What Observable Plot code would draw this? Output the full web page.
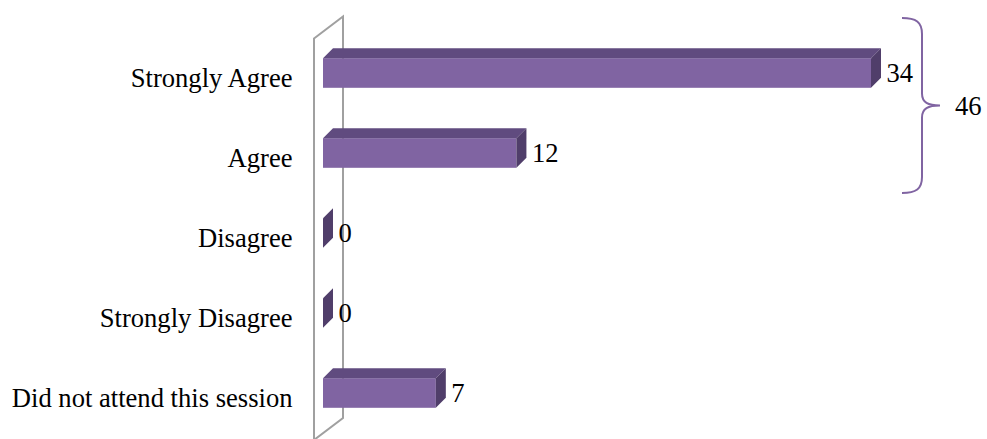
<!DOCTYPE html>
<html><head><meta charset="utf-8">
<script src="https://cdn.jsdelivr.net/npm/d3@7"></script>
<script src="https://cdn.jsdelivr.net/npm/@observablehq/plot@0.6"></script>
<style>body{margin:0;background:#fff}</style>
</head><body><div id="chart"></div>
<script>
const categories = ["Strongly Agree", "Agree", "Disagree", "Strongly Disagree", "Did not attend this session"];
const counts = [34, 12, 0, 0, 7];
const bracketGroup = ["Strongly Agree", "Agree"];

const data = categories.map((c, i) => ({category: c, count: counts[i]}));
const bracketTotal = d3.sum(data.filter(d => bracketGroup.includes(d.category)), d => d.count);

const FRONT = "#8064A2", TOP = "#604B7F", SIDE = "#503E6A", WALL = "#A0A0A0";
const FONT = "Liberation Serif";
const FS = 26.6;
const depth = 10;

const chart = Plot.plot({
  width: 987, height: 439,
  marginLeft: 323, marginRight: 116, marginTop: 30.5, marginBottom: 4,
  style: {fontFamily: FONT, fontSize: FS + "px", background: "#fff", color: "#000", overflow: "visible"},
  x: {domain: [0, 34], axis: null},
  y: {domain: categories, padding: 0, axis: null},
  marks: [
    Plot.barX(data, {x: "count", y: "category", fill: FRONT, insetTop: 25.2, insetBottom: 25.2}),
    Plot.text(data, {x: "count", y: "category", text: d => String(d.count), dx: 15, textAnchor: "start", fontSize: FS, fontFamily: FONT, fill: "#000"}),
    Plot.axisY({tickSize: 0, tickPadding: 31, dy: 5, label: null, fontSize: FS, fontFamily: FONT})
  ]
});

const svg = d3.select(chart);
const xs = chart.scale("x"), ys = chart.scale("y");
const X = v => xs.apply(v), Y = c => ys.apply(c);
const bw = ys.bandwidth;
const inset = 25.2;
const x0 = X(0);

// back wall (behind bars)
const yTop0 = Y(categories[0]);
const yEnd = Y(categories[categories.length - 1]) + bw;
const wallL = x0 - 9, wallR = x0 + 20, wallRise = 22;
const wall = svg.insert("g", "g");
wall.append("path")
  .attr("d", `M${wallL},${yTop0 + 5.5} L${wallR},${yTop0 + 5.5 - wallRise} L${wallR},${yEnd - 15} L${wallL},${yEnd - 15 + wallRise} Z`)
  .attr("fill", "none").attr("stroke", WALL).attr("stroke-width", 2);

// 3D faces for each bar
const faces = svg.append("g");
for (const d of data) {
  const xa = x0, xb = X(d.count);
  const yt = Y(d.category) + inset, yb = Y(d.category) + bw - inset;
  if (xb > xa) {
    faces.append("path")
      .attr("d", `M${xa},${yt} L${xa + depth},${yt - depth} L${xb + depth},${yt - depth} L${xb},${yt} Z`)
      .attr("fill", TOP);
  }
  faces.append("path")
    .attr("d", `M${xb},${yt} L${xb + depth},${yt - depth} L${xb + depth},${yb - depth} L${xb},${yb} Z`)
    .attr("fill", SIDE);
}
svg.selectAll("g[aria-label='text']").raise();

// brace for grouped categories
const bTop = Y(bracketGroup[0]) - 15;
const bBot = Y(bracketGroup[bracketGroup.length - 1]) + bw;
const bMid = (bTop + bBot) / 2;
const bx = X(d3.max(counts)) + 31, bv = bx + 20, bt = bx + 38;
svg.append("path")
  .attr("d", `M${bx},${bTop} C${bx + 14},${bTop} ${bv},${bTop + 4} ${bv},${bTop + 16} L${bv},${bMid - 12} C${bv},${bMid - 3} ${bv + 6},${bMid} ${bt},${bMid}` +
             ` M${bt},${bMid} C${bv + 6},${bMid} ${bv},${bMid + 3} ${bv},${bMid + 12} L${bv},${bBot - 16} C${bv},${bBot - 4} ${bx + 14},${bBot} ${bx},${bBot}`)
  .attr("fill", "none").attr("stroke", FRONT).attr("stroke-width", 2);
svg.append("text")
  .attr("x", bt + 15).attr("y", bMid).attr("dy", "0.35em")
  .attr("text-anchor", "start")
  .attr("font-family", FONT).attr("font-size", FS).attr("fill", "#000")
  .text(String(bracketTotal));

document.getElementById("chart").appendChild(chart);
</script>
</body></html>
